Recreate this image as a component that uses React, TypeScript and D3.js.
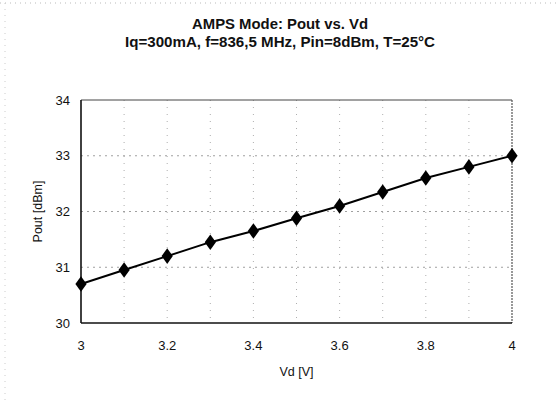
import { useEffect, useRef } from "react";
import * as d3 from "d3";

const vd = [3.0, 3.1, 3.2, 3.3, 3.4, 3.5, 3.6, 3.7, 3.8, 3.9, 4.0];
const pout = [30.7, 30.95, 31.2, 31.45, 31.65, 31.88, 32.1, 32.35, 32.6, 32.8, 33.0];
const xTicks = [3, 3.2, 3.4, 3.6, 3.8, 4];
const xGrid = [3.1, 3.2, 3.3, 3.4, 3.5, 3.6, 3.7, 3.8, 3.9];
const yTicks = [30, 31, 32, 33, 34];
const titles = [
  "AMPS Mode: Pout vs. Vd",
  "Iq=300mA, f=836,5 MHz, Pin=8dBm, T=25°C",
];

export default function App() {
  const svgRef = useRef<SVGSVGElement>(null);

  useEffect(() => {
    const width = 557;
    const height = 401;
    const margin = { top: 100, right: 45, bottom: 78, left: 81 };
    const font = "Arial, 'Liberation Sans', sans-serif";

    const svg = d3.select(svgRef.current);
    svg.selectAll("*").remove();
    svg.attr("width", width).attr("height", height);

    svg.append("rect").attr("width", width).attr("height", height).attr("fill", "#fff");

    // faint outer frame left by the scan
    svg.append("line").attr("x1", 0).attr("x2", width).attr("y1", 3).attr("y2", 3)
      .attr("stroke", "#bbb").attr("stroke-dasharray", "1,4");
    svg.append("line").attr("x1", 5).attr("x2", 5).attr("y1", 3).attr("y2", height)
      .attr("stroke", "#ccc").attr("stroke-dasharray", "1,5");

    const x = d3.scaleLinear().domain([3, 4]).range([margin.left, width - margin.right]);
    const y = d3.scaleLinear().domain([30, 34]).range([height - margin.bottom, margin.top]);

    // the scanned title is a bit stretched sideways
    const titleWidths = [176, 310];
    svg.selectAll(".title")
      .data(titles)
      .join("text")
      .attr("class", "title")
      .attr("x", 280)
      .attr("y", (_d, i) => 28.5 + i * 18.5)
      .attr("text-anchor", "middle")
      .attr("font-family", font)
      .attr("font-weight", "bold")
      .attr("font-size", 14)
      .attr("textLength", (_d, i) => titleWidths[i])
      .attr("lengthAdjust", "spacingAndGlyphs")
      .attr("fill", "#111")
      .text((d) => d);

    // grid
    svg.selectAll(".vgrid")
      .data(xGrid)
      .join("line")
      .attr("x1", (d) => x(d)).attr("x2", (d) => x(d))
      .attr("y1", y(34)).attr("y2", y(30))
      .attr("stroke", "#999").attr("stroke-width", 0.8).attr("stroke-dasharray", "1,6");
    svg.selectAll(".hgrid")
      .data([31, 32, 33])
      .join("line")
      .attr("x1", x(3)).attr("x2", x(4))
      .attr("y1", (d) => y(d)).attr("y2", (d) => y(d))
      .attr("stroke", "#888").attr("stroke-width", 0.8).attr("stroke-dasharray", "2,4");

    // frame
    svg.append("line").attr("x1", x(3)).attr("x2", x(4)).attr("y1", y(34)).attr("y2", y(34))
      .attr("stroke", "#444").attr("stroke-width", 1);
    svg.append("line").attr("x1", x(4)).attr("x2", x(4)).attr("y1", y(34)).attr("y2", y(30))
      .attr("stroke", "#555").attr("stroke-width", 1.2).attr("stroke-dasharray", "2,1");
    svg.append("line").attr("x1", x(3)).attr("x2", x(4)).attr("y1", y(30)).attr("y2", y(30))
      .attr("stroke", "#111").attr("stroke-width", 1.6);
    svg.append("line").attr("x1", x(3)).attr("x2", x(3)).attr("y1", y(34)).attr("y2", y(30))
      .attr("stroke", "#111").attr("stroke-width", 1.6);

    // tick labels
    svg.selectAll(".ylab")
      .data(yTicks)
      .join("text")
      .attr("x", x(3) - 11)
      .attr("y", (d) => y(d))
      .attr("dy", "0.35em")
      .attr("text-anchor", "end")
      .attr("font-family", font)
      .attr("font-size", 13)
      .attr("fill", "#111")
      .text((d) => d);
    svg.selectAll(".xlab")
      .data(xTicks)
      .join("text")
      .attr("x", (d) => x(d))
      .attr("y", y(30) + 22)
      .attr("dy", "0.35em")
      .attr("text-anchor", "middle")
      .attr("font-family", font)
      .attr("font-size", 13)
      .attr("fill", "#111")
      .text((d) => d);

    svg.append("text")
      .attr("x", x(3.5))
      .attr("y", 372)
      .attr("dy", "0.35em")
      .attr("text-anchor", "middle")
      .attr("font-family", font)
      .attr("font-size", 12.5)
      .attr("fill", "#111")
      .text("Vd [V]");
    svg.append("text")
      .attr("transform", `translate(38,${y(32)}) rotate(-90)`)
      .attr("dy", "0.35em")
      .attr("text-anchor", "middle")
      .attr("font-family", font)
      .attr("font-size", 12.5)
      .attr("fill", "#111")
      .text("Pout [dBm]");

    const pts = vd.map((v, i) => [v, pout[i]] as [number, number]);
    const line = d3.line<[number, number]>().x((d) => x(d[0])).y((d) => y(d[1]));
    svg.append("path")
      .attr("d", line(pts))
      .attr("fill", "none")
      .attr("stroke", "#000")
      .attr("stroke-width", 2);

    const diamond = d3.symbol().type(d3.symbolDiamond).size(70);
    svg.selectAll(".pt")
      .data(pts)
      .join("path")
      .attr("transform", (d) => `translate(${x(d[0])},${y(d[1])}) scale(1.25,1)`)
      .attr("d", diamond())
      .attr("fill", "#000");
  }, []);

  return <svg ref={svgRef} style={{ display: "block", position: "absolute", left: 0, top: 0 }} />;
}
